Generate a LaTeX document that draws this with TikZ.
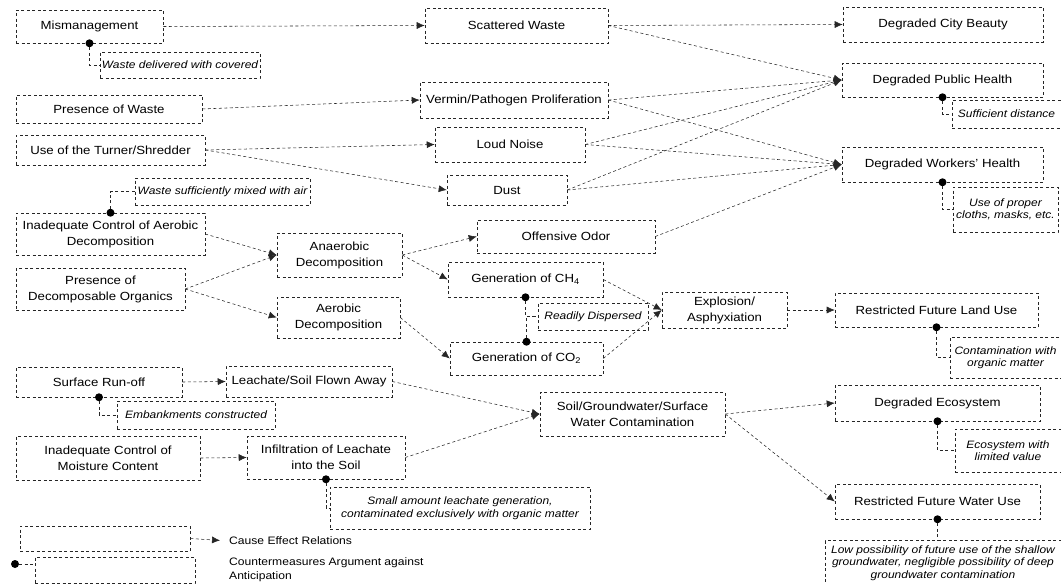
\documentclass[tikz,border=0pt]{standalone}
\usepackage{fontspec}
\setmainfont{Liberation Sans}[FakeStretch=1.12]
\usetikzlibrary{arrows.meta}
\begin{document}
\begin{tikzpicture}[x=1pt,y=-1pt,
  dline/.style={line width=0.55pt, draw=black!85, dash pattern=on 3pt off 2.5pt},
  cbox/.style={dline, rectangle, align=center, inner sep=1pt, font=\fontsize{11.8}{16}\selectfont},
  cmbox/.style={dline, rectangle, align=center, inner sep=1pt, font=\fontsize{10.7}{12.5}\selectfont\itshape},
  arr/.style={dline, -{Latex[length=8pt,width=7pt]}},
  dot/.style={circle, fill=black, inner sep=0pt, minimum size=8pt},
  legtxt/.style={font=\fontsize{10.8}{14}\selectfont, align=left, inner sep=0pt}
]
\useasboundingbox (0,0) rectangle (1061,584);

% left column
\node[cbox, minimum width=147, minimum height=33] (mis) at (89.5,26.5) {Mismanagement};
\node[cmbox, minimum width=160, minimum height=26] (cov) at (180,65) {Waste delivered with covered};
\node[cbox, minimum width=186, minimum height=28] (pow) at (109,109) {Presence of Waste};
\node[cbox, minimum width=189, minimum height=30] (uts) at (110.5,150) {Use of the Turner/Shredder};
\node[cmbox, minimum width=175, minimum height=27] (mix) at (222.5,191.5) {Waste sufficiently mixed with air};
\node[cbox, minimum width=189, minimum height=42] (icad) at (110.5,234) {Inadequate Control of Aerobic\\Decomposition};
\node[cbox, minimum width=169, minimum height=42] (pdo) at (100.5,289) {Presence of\\Decomposable Organics};
\node[cbox, minimum width=166, minimum height=30] (sro) at (99,382) {Surface Run-off};
\node[cmbox, minimum width=158, minimum height=28] (emb) at (196,415) {Embankments constructed};
\node[cbox, minimum width=184, minimum height=44] (icmc) at (108,458) {Inadequate Control of\\Moisture Content};
\node[cbox, minimum width=158, minimum height=43] (inf) at (326,457.5) {Infiltration of Leachate\\into the Soil};
\node[cmbox, minimum width=260, minimum height=42] (small) at (460,508) {Small amount leachate generation,\\contaminated exclusively with organic matter};
\node[cbox, minimum width=166, minimum height=31] (lsfa) at (309,381.5) {Leachate/Soil Flown Away};
\node[cbox, minimum width=125, minimum height=44] (ana) at (339.5,255) {Anaerobic\\Decomposition};
\node[cbox, minimum width=123, minimum height=41] (aer) at (338.5,317.5) {Aerobic\\Decomposition};

% middle column
\node[cbox, minimum width=183, minimum height=35] (sw) at (516.5,25.5) {Scattered Waste};
\node[cbox, minimum width=188, minimum height=36] (vpp) at (514,100) {Vermin/Pathogen Proliferation};
\node[cbox, minimum width=150, minimum height=35] (noise) at (510,144.5) {Loud Noise};
\node[cbox, minimum width=120, minimum height=30] (dust) at (507,190) {Dust};
\node[cbox, minimum width=178, minimum height=33] (odor) at (566,236.5) {Offensive Odor};
\node[cbox, minimum width=155, minimum height=35] (ch4) at (525.5,279.5) {Generation of CH\textsubscript{4}};
\node[cbox, minimum width=153, minimum height=33] (co2) at (526.5,358.5) {Generation of CO\textsubscript{2}};
\node[cmbox, minimum width=110, minimum height=27] (rd) at (593,316.5) {Readily Dispersed};
\node[cbox, minimum width=125, minimum height=36] (exp) at (724.5,310) {Explosion/\\Asphyxiation};
\node[cbox, minimum width=185, minimum height=44] (sgw) at (632.5,414) {Soil/Groundwater/Surface\\Water Contamination};

% right column
\node[cbox, minimum width=200, minimum height=35] (cb) at (943,24.5) {Degraded City Beauty};
\node[cbox, minimum width=201, minimum height=34] (ph) at (942.5,80) {Degraded Public Health};
\node[cmbox, minimum width=109, minimum height=28] (sd) at (1006.5,114) {Sufficient distance};
\node[cbox, minimum width=201, minimum height=35] (wh) at (942.5,164.5) {Degraded Workers' Health};
\node[cmbox, minimum width=105, minimum height=45] (upc) at (1005.5,209.5) {Use of proper\\cloths, masks, etc.};
\node[cbox, minimum width=203, minimum height=34] (lu) at (936.5,310) {Restricted Future Land Use};
\node[cmbox, minimum width=111, minimum height=41] (com) at (1005.5,357.5) {Contamination with\\organic matter};
\node[cbox, minimum width=205, minimum height=36] (eco) at (937.5,403) {Degraded Ecosystem};
\node[cmbox, minimum width=106, minimum height=43] (elv) at (1008,450.5) {Ecosystem with\\limited value};
\node[cbox, minimum width=205, minimum height=35] (wu) at (937.5,501.5) {Restricted Future Water Use};
\node[cmbox, minimum width=236, minimum height=45] (low) at (943,563) {Low possibility of future use of the shallow\\groundwater, negligible possibility of deep\\groundwater contamination};

% cause-effect arrows
\draw[arr] (mis.east) -- (sw.west);
\draw[arr] (pow.east) -- (vpp.west);
\draw[arr] (uts.east) -- (noise.west);
\draw[arr] (uts.east) -- (dust.west);
\draw[arr] (sw.east) -- (cb.west);
\draw[arr] (sw.east) -- (ph.west);
\draw[arr] (vpp.east) -- (ph.west);
\draw[arr] (vpp.east) -- (wh.west);
\draw[arr] (noise.east) -- (ph.west);
\draw[arr] (noise.east) -- (wh.west);
\draw[arr] (dust.east) -- (ph.west);
\draw[arr] (dust.east) -- (wh.west);
\draw[arr] (odor.east) -- (wh.west);
\draw[arr] (icad.east) -- (ana.west);
\draw[arr] (pdo.east) -- (ana.west);
\draw[arr] (pdo.east) -- (aer.west);
\draw[arr] (ana.east) -- (odor.west);
\draw[arr] (ana.east) -- (ch4.west);
\draw[arr] (aer.east) -- (co2.west);
\draw[arr] (ch4.east) -- (exp.west);
\draw[arr] (co2.east) -- (exp.west);
\draw[arr] (exp.east) -- (lu.west);
\draw[arr] (sro.east) -- (lsfa.west);
\draw[arr] (icmc.east) -- (inf.west);
\draw[arr] (lsfa.east) -- (sgw.west);
\draw[arr] (inf.east) -- (sgw.west);
\draw[arr] (sgw.east) -- (eco.west);
\draw[arr] (sgw.east) -- (wu.west);

% countermeasures
\node[dot] (d1) at (mis.south) {};
\draw[dline] (d1) |- (cov.west);
\node[dot] (d2) at (icad.north) {};
\draw[dline] (d2) |- (mix.west);
\node[dot] (d3) at (ph.south) {};
\draw[dline] (d3) |- (sd.west);
\node[dot] (d4) at (wh.south) {};
\draw[dline] (d4) |- (upc.west);
\node[dot] (d5) at (ch4.south) {};
\draw[dline] (d5) |- (rd.west);
\node[dot] (d6) at (co2.north) {};
\draw[dline] (d6) |- (rd.west);
\node[dot] (d7) at (lu.south) {};
\draw[dline] (d7) |- (com.west);
\node[dot] (d8) at (sro.south) {};
\draw[dline] (d8) |- (emb.west);
\node[dot] (d9) at (inf.south) {};
\draw[dline] (d9) |- (small.west);
\node[dot] (d10) at (eco.south) {};
\draw[dline] (d10) |- (elv.west);
\node[dot] (d11) at (wu.south) {};
\draw[dline] (d11) -- (d11 |- low.north);

% legend
\node[cbox, minimum width=170, minimum height=25] (lg1) at (105,538.5) {};
\node[legtxt, anchor=west] (lgt1) at (229,541) {Cause Effect Relations};
\draw[arr, shorten >=9pt] (lg1.east) -- (lgt1.west);
\node[dot] (lgd) at (15,564) {};
\node[cbox, minimum width=160, minimum height=26] (lg2) at (115,570) {};
\draw[dline] (lgd) -- (lgd -| lg2.west);
\node[legtxt, anchor=north west] (lgt2) at (229,557) {Countermeasures Argument against\\Anticipation};
\end{tikzpicture}
\end{document}
